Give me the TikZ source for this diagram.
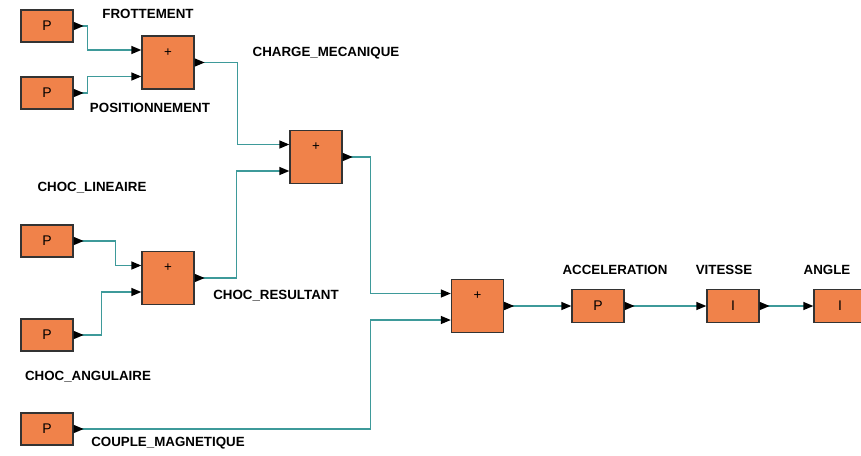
\documentclass[tikz,border=0pt]{standalone}
\usepackage{fontspec}
\setmainfont{Liberation Sans}
\usetikzlibrary{arrows.meta, positioning, calc}
\definecolor{blkorange}{HTML}{F0824A}
\definecolor{blkedge}{HTML}{333333}
\definecolor{wireteal}{HTML}{3E9A9A}
\tikzset{
  block/.style={
    draw=blkedge, fill=blkorange, line width=1pt, inner sep=0pt,
    minimum width=39pt, minimum height=24pt,
    font=\fontsize{10.5}{12}\selectfont},
  sumblk/.style={
    block, minimum height=39.75pt,
    label={[anchor=center, yshift=-12.75pt, inner sep=0pt,
            font=\fontsize{10}{10}\selectfont]north:+}},
  lbl/.style={font=\fontsize{10}{12}\selectfont\bfseries, inner sep=0pt},
  wire/.style={draw=wireteal, line width=1pt,
    {Triangle[reversed, length=7.5pt, width=6pt, color=black]}-{Triangle[length=7.5pt, width=6pt, color=black]}},
}
\begin{document}
\begin{tikzpicture}[x=.75pt, y=-.75pt]
  \useasboundingbox (0,0) rectangle (861,455);
  % sources
  \node[block] (p1) at (47,26)  {P};
  \node[block] (p2) at (47,93)  {P};
  \node[block] (p3) at (47,241) {P};
  \node[block] (p4) at (47,335) {P};
  \node[block] (p5) at (47,429) {P};
  % summing junctions
  \node[sumblk] (s1) at (168,62.5)  {};
  \node[sumblk] (s2) at (316,157)   {};
  \node[sumblk] (s3) at (168,278)   {};
  \node[sumblk] (s4) at (477.5,306) {};
  % output chain
  \node[block, minimum height=24.75pt] (acc) at (598,306) {P};
  \node[block, minimum height=24.75pt] (vit) at (733,306) {I};
  \node[block, minimum height=24.75pt] (ang) at (840,306) {I};
  % signal names
  \node[lbl] (tfrot) at (148,14)  {FROTTEMENT};
  \node[lbl] (tpos)  at (150,108) {POSITIONNEMENT};
  \node[lbl] (tcharge) at (326,53) {CHARGE\_MECANIQUE};
  \node[lbl] (tlin)  at (92,188)  {CHOC\_LINEAIRE};
  \node[lbl] (tres)  at (276,296) {CHOC\_RESULTANT};
  \node[lbl] (tang)  at (88,377)  {CHOC\_ANGULAIRE};
  \node[lbl] (tcoup) at (168,443) {COUPLE\_MAGNETIQUE};
  \node[lbl] (tacc)  at (615,270) {ACCELERATION};
  \node[lbl] (tvit)  at (724,270) {VITESSE};
  \node[lbl] (tangle) at (827,270) {ANGLE};
  % input ports
  \foreach \s in {s1,s2,s3,s4} {
    \coordinate (\s a) at ($(\s.west)+(0,-12.5)$);
    \coordinate (\s b) at ($(\s.west)+(0,14)$);
  }
  \draw[wire] (p1.east) -- ++(14,0) |- (s1a);
  \draw[wire] (p2.east) -- ++(14,0) |- (s1b);
  \draw[wire] (s1.east) -- ++(43,0) |- (s2a);
  \draw[wire] (p3.east) -- ++(42,0) |- (s3a);
  \draw[wire] (p4.east) -- ++(28,0) |- (s3b);
  \draw[wire] (s3.east) -- ++(42,0) |- (s2b);
  \draw[wire] (s2.east) -- ++(28,0) |- (s4a);
  \draw[wire] (p5.east) -- ++(297,0) |- (s4b);
  \draw[wire] (s4) -- (acc);
  \draw[wire] (acc) -- (vit);
  \draw[wire] (vit) -- (ang);
\end{tikzpicture}
\end{document}
